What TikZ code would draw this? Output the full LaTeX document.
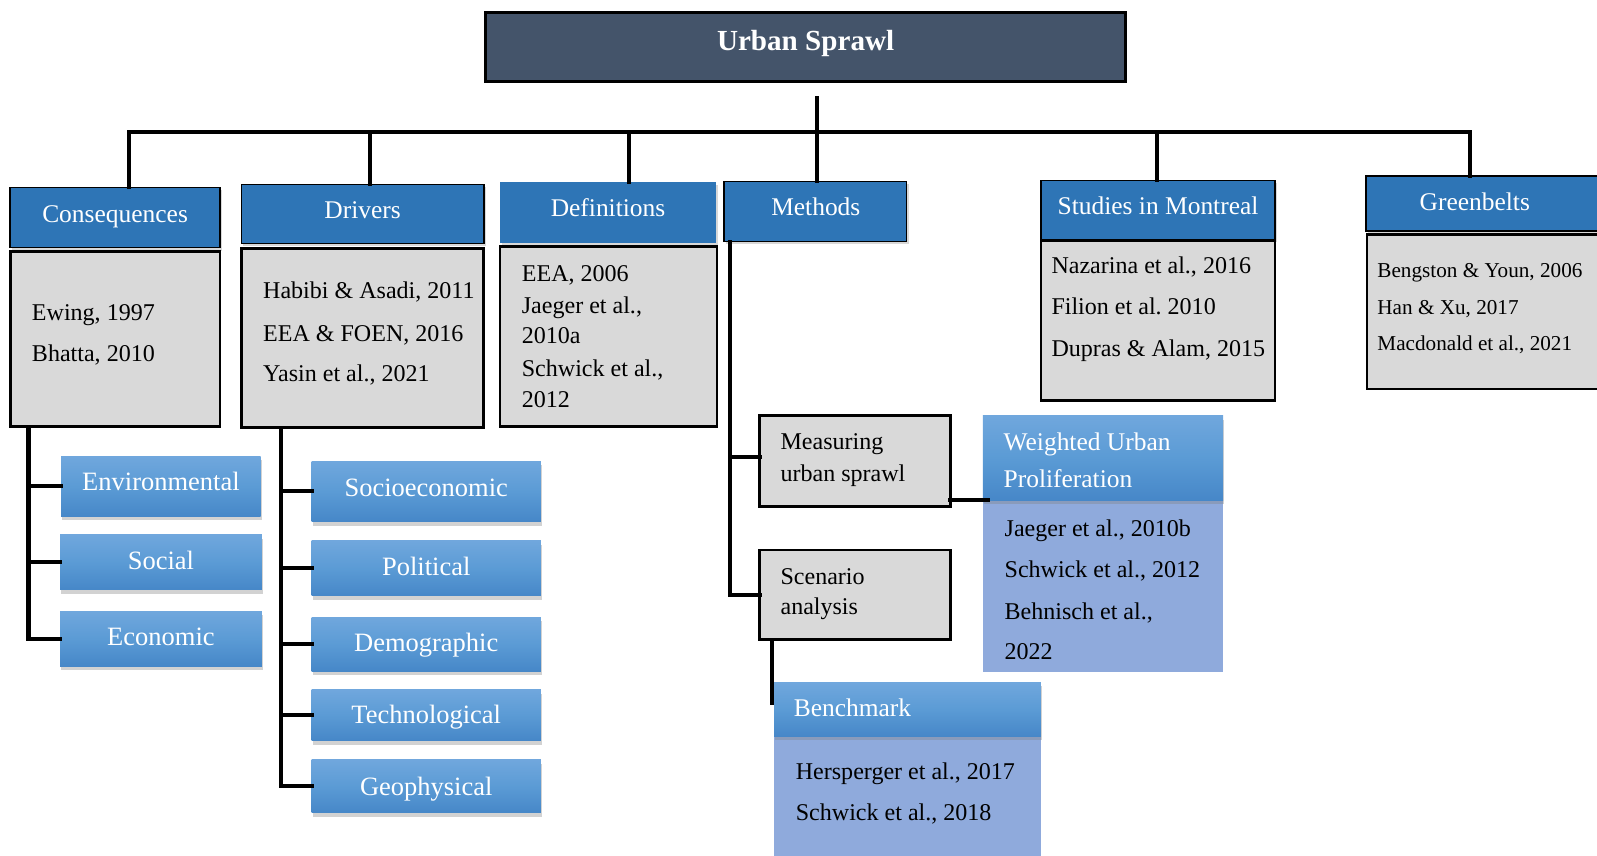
\documentclass[tikz,border=0pt]{standalone}
\usepackage{fontspec}
\setmainfont{Liberation Serif}
\usetikzlibrary{fit,shadows,calc}
\definecolor{titlec}{HTML}{44546A}
\definecolor{hblue}{HTML}{2E75B6}
\definecolor{gtop}{HTML}{70A7DD}
\definecolor{gmid}{HTML}{5B9BD5}
\definecolor{gbot}{HTML}{4687C8}
\definecolor{lblue}{HTML}{8FAADC}
\definecolor{cgray}{HTML}{D9D9D9}
\tikzset{
  bx/.style={inner sep=0pt, outer sep=0pt},
  titlebox/.style={bx, fill=titlec, draw=black, line width=1.5pt},
  hdr/.style={bx, fill=hblue, draw=black, line width=0.7pt, drop shadow={shadow xshift=1pt, shadow yshift=-1.5pt, opacity=0.3}},
  hdrnb/.style={bx, fill=hblue, drop shadow={shadow xshift=1pt, shadow yshift=-1.5pt, opacity=0.3}},
  graybox/.style={bx, fill=cgray, draw=black, line width=1.3pt},
  grad/.style={bx, top color=gtop, bottom color=gbot, middle color=gmid, drop shadow={shadow xshift=0.5pt, shadow yshift=-2pt, opacity=0.35}},
  lbox/.style={bx, fill=lblue},
  conn/.style={line width=2pt, line cap=rect},
  ctext/.style={inner sep=0pt, anchor=base west, font=\fontsize{11.8}{14}\selectfont},
  gtext/.style={inner sep=0pt, anchor=base west, font=\fontsize{10.4}{13}\selectfont},
  htext/.style={inner sep=0pt, anchor=base, text=white, font=\fontsize{12.5}{15}\selectfont},
  hltext/.style={inner sep=0pt, anchor=base west, text=white, font=\fontsize{12.5}{15}\selectfont},
  stext/.style={inner sep=0pt, anchor=base, text=white, font=\fontsize{13}{15}\selectfont},
}
\begin{document}
\begin{tikzpicture}[x=0.5pt,y=-0.5pt]
\clip (0,0) rectangle (1568,840);
\fill[white] (0,0) rectangle (1568,840);

% title
\node[titlebox, fit={(477,12)(1105,80)}] (title) {};
\node[inner sep=0pt, anchor=base, text=white, font=\bfseries\fontsize{14.3}{17}\selectfont] (ttl) at (791,49.8) {Urban Sprawl};

% bus
\coordinate (t0) at (802,96);
\coordinate (busL) at (127,130);
\coordinate (busR) at (1443,130);
\coordinate (b2) at (363,130);
\coordinate (b3) at (618,130);
\coordinate (b5) at (1136,130);

% headers and content
\node[hdr, fit={(10,184)(216,243)}] (consH) {};
\node[graybox, fit={(10,247)(216,419)}] (consC) {};
\node[hdr, fit={(237,181)(475,239)}] (drvH) {};
\node[graybox, fit={(237,244)(475,420)}] (drvC) {};
\node[hdrnb, fit={(491,179)(703,239)}] (defH) {};
\node[graybox, fit={(491,242)(704,419)}] (defC) {};
\node[hdr, fit={(711,178)(890,237)}] (metH) {};
\node[hdr, fit={(1022,177)(1252,235)}] (stdH) {};
\node[graybox, fit={(1022,236)(1252,393)}] (stdC) {};
\node[hdr, fit={(1341,173)(1600,227)}] (grnH) {};
\node[graybox, fit={(1342,230)(1600,382)}] (grnC) {};

% methods sub-boxes
\node[graybox, fit={(746,408)(933,497)}] (meas) {};
\node[graybox, fit={(746,540)(933,628)}] (scen) {};
\node[lbox, fit={(965,491)(1201,660)}] (wupC) {};
\node[grad, fit={(965,408)(1201,491)}] (wupH) {};
\node[lbox, fit={(760,723)(1022,850)}] (bmkC) {};
\node[grad, fit={(760,670)(1022,723)}] (bmkH) {};

% consequences sub-boxes
\node[grad, fit={(60,448)(256,507)}] (env) {};
\node[grad, fit={(59,525)(257,579)}] (soc) {};
\node[grad, fit={(59,600)(257,654)}] (eco) {};

% drivers sub-boxes
\node[grad, fit={(306,453)(531,512)}] (sox) {};
\node[grad, fit={(306,531)(531,585)}] (pol) {};
\node[grad, fit={(306,606)(531,659)}] (dem) {};
\node[grad, fit={(306,677)(531,727)}] (tec) {};
\node[grad, fit={(306,746)(531,798)}] (geo) {};

% connectors
\draw[conn] (t0) -- (t0 |- busL);
\draw[conn] (busL) -- (busR);
\draw[conn] (busL) -- (busL |- consH.north);
\draw[conn] (b2) -- (b2 |- drvH.north);
\draw[conn] (b3) -- (b3 |- defH.north);
\draw[conn] (t0 |- busL) -- (t0 |- metH.north);
\draw[conn] (b5) -- (b5 |- stdH.north);
\draw[conn] (busR) -- (busR |- grnH.north);

\coordinate (cl) at (28,420);
\draw[conn] (cl) |- (eco.west);
\draw[conn] (cl |- env.west) -- (env.west);
\draw[conn] (cl |- soc.west) -- (soc.west);

\coordinate (dl) at (276,421);
\draw[conn] (dl) |- (geo.west);
\draw[conn] (dl |- sox.west) -- (sox.west);
\draw[conn] (dl |- pol.west) -- (pol.west);
\draw[conn] (dl |- dem.west) -- (dem.west);
\draw[conn] (dl |- tec.west) -- (tec.west);

\coordinate (ml) at (717,238);
\draw[conn] (ml) |- (scen.west);
\draw[conn] ($(ml |- meas.west)+(0,-4)$) -- ($(meas.west)+(0,-4)$);

\draw[conn] (meas.east |- wupH.south) -- ($(wupH.south west)+(5,0)$);
\coordinate (sb) at ($(scen.south west)+(12,0)$);
\draw[conn] (sb) -- ($(sb |- bmkH.west)+(0,-6)$);

% header texts
\node[htext] (h1) at (113,218.6) {Consequences};
\node[htext] (h2) at (356,214.4) {Drivers};
\node[htext] (h3) at (597,212.7) {Definitions};
\node[htext] (h4) at (801,211.5) {Methods};
\node[htext] (h5) at (1137,211) {Studies in Montreal};
\node[htext] (h6) at (1448,206.8) {Greenbelts};

% content texts
\node[ctext] (c1) at (31,315) {Ewing, 1997};
\node[ctext] (c2) at (31,355) {Bhatta, 2010};
\node[ctext] (d1) at (258,293.5) {Habibi \& Asadi, 2011};
\node[ctext] (d2) at (258,335.5) {EEA \& FOEN, 2016};
\node[ctext] (d3) at (258,375) {Yasin et al., 2021};
\node[ctext] (e1) at (512,276.5) {EEA, 2006};
\node[ctext] (e2) at (512,307.6) {Jaeger et al.,};
\node[ctext] (e3) at (512,337) {2010a};
\node[ctext] (e4) at (512,369.8) {Schwick et al.,};
\node[ctext] (e5) at (512,400) {2012};
\node[ctext] (s1) at (1032,269) {Nazarina et al., 2016};
\node[ctext] (s2) at (1032,309) {Filion et al.\ 2010};
\node[ctext] (s3) at (1032,350.2) {Dupras \& Alam, 2015};
\node[gtext] (g1) at (1352,272.3) {Bengston \& Youn, 2006};
\node[gtext] (g2) at (1352,308.3) {Han \& Xu, 2017};
\node[gtext] (g3) at (1352,344.6) {Macdonald et al., 2021};

\node[ctext] (m1) at (766,441.8) {Measuring};
\node[ctext] (m2) at (766,473) {urban sprawl};
\node[ctext] (m3) at (766,573.4) {Scenario};
\node[ctext] (m4) at (766,603.8) {analysis};
\node[hltext] (w1) at (985,442.8) {Weighted Urban};
\node[hltext] (w2) at (985,478.5) {Proliferation};
\node[ctext] (w3) at (986,526.3) {Jaeger et al., 2010b};
\node[ctext] (w4) at (986,567.2) {Schwick et al., 2012};
\node[ctext] (w5) at (986,607.8) {Behnisch et al.,};
\node[ctext] (w6) at (986,648) {2022};
\node[hltext] (k1) at (779,703.7) {Benchmark};
\node[ctext] (k2) at (781,765) {Hersperger et al., 2017};
\node[ctext] (k3) at (781,805.8) {Schwick et al., 2018};

% sub-box texts
\node[stext] (x1) at (158,482) {Environmental};
\node[stext] (x2) at (158,559.6) {Social};
\node[stext] (x3) at (158,634) {Economic};
\node[stext] (y1) at (418.5,487) {Socioeconomic};
\node[stext] (y2) at (418.5,565.5) {Political};
\node[stext] (y3) at (418.5,639.8) {Demographic};
\node[stext] (y4) at (418.5,710.8) {Technological};
\node[stext] (y5) at (418.5,780.6) {Geophysical};
\end{tikzpicture}
\end{document}
